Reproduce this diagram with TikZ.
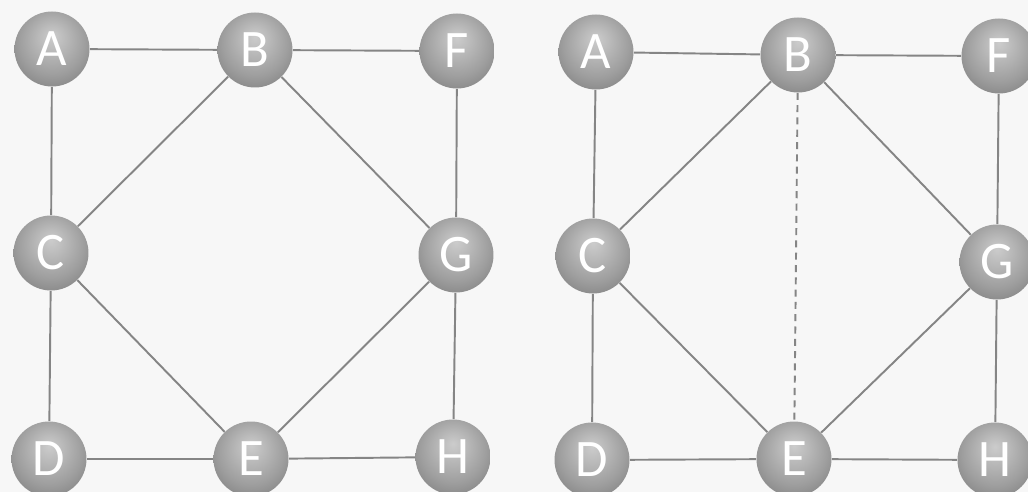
\documentclass[tikz,border=0pt]{standalone}
\usepackage{fontspec}
\newfontfamily\labfont{Carlito}
\pgfdeclareradialshading{sphere}{\pgfpoint{0bp}{9bp}}{color(0bp)=(black!20); color(10bp)=(black!28); color(22bp)=(black!38); color(32bp)=(black!48); color(50bp)=(black!54)}
\tikzset{
  vtx/.style={circle, minimum size=1.5cm, inner sep=0pt, shading=sphere,
    text=white, font=\labfont\fontsize{30}{30}\selectfont},
  edge/.style={draw=black!48, line width=1.1pt},
  dedge/.style={draw=black!48, line width=1.1pt, dash pattern=on 4pt off 3pt}
}
\begin{document}
\begin{tikzpicture}[x=0.02cm, y=-0.02cm]
\useasboundingbox (0,0) rectangle (1028,492);
\clip (0,0) rectangle (1028,492);
\fill[black!3] (0,0) rectangle (1028,492);
% left graph
\node[vtx] (A1) at (52,49) {A};
\node[vtx] (B1) at (255,50) {B};
\node[vtx] (F1) at (457,51) {F};
\node[vtx] (C1) at (51,253) {C};
\node[vtx] (G1) at (456,255) {G};
\node[vtx] (D1) at (49,459) {D};
\node[vtx] (E1) at (251,459) {E};
\node[vtx] (H1) at (453,457) {H};
% right graph
\node[vtx] (A2) at (596,52) {A};
\node[vtx] (B2) at (798,55) {B};
\node[vtx] (F2) at (999,56) {F};
\node[vtx] (C2) at (593,256) {C};
\node[vtx] (G2) at (997,262) {G};
\node[vtx] (D2) at (592,460) {D};
\node[vtx] (E2) at (794,459) {E};
\node[vtx] (H2) at (995,460) {H};
\foreach \i in {1,2}{
  \draw[edge] (A\i) -- (B\i);
  \draw[edge] (B\i) -- (F\i);
  \draw[edge] (A\i) -- (C\i);
  \draw[edge] (B\i) -- (C\i);
  \draw[edge] (B\i) -- (G\i);
  \draw[edge] (F\i) -- (G\i);
  \draw[edge] (C\i) -- (D\i);
  \draw[edge] (C\i) -- (E\i);
  \draw[edge] (G\i) -- (E\i);
  \draw[edge] (G\i) -- (H\i);
  \draw[edge] (D\i) -- (E\i);
  \draw[edge] (E\i) -- (H\i);
}
\draw[dedge] (B2) -- (E2);
\end{tikzpicture}
\end{document}
